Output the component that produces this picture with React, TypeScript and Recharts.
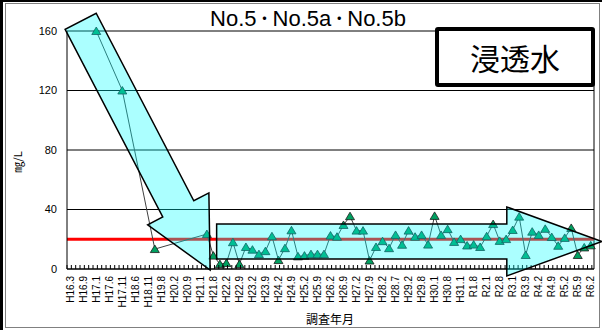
import React from 'react'
import { LineChart, Line, XAxis, YAxis, CartesianGrid, ReferenceLine } from 'recharts'

// survey dates shown on the axis (every 2nd survey is labelled)
const dateLabels = [
  'H16.3', 'H16.9', 'H17.1', 'H17.6', 'H17.11', 'H18.6', 'H18.11', 'H19.8', 'H20.2', 'H20.9',
  'H21.1', 'H21.8', 'H22.2', 'H22.9', 'H23.2', 'H23.9', 'H24.2', 'H24.9', 'H25.2', 'H25.9',
  'H26.2', 'H26.9', 'H27.2', 'H27.9', 'H28.2', 'H28.7', 'H29.2', 'H29.8', 'H30.1', 'H30.8',
  'H31.1', 'R1.8', 'R2.1', 'R2.8', 'R3.1', 'R3.9', 'R4.2', 'R4.9', 'R5.2', 'R5.9', 'R6.2',
]

// mg/L per survey (null = not measured)
const concentration: (number | null)[] = [
  null, null, null, null, 160, null, null, null, 120, null,
  null, null, null, 13.4, null, null, null, null, null, null,
  null, 23.5, 9, 3.3, 4, 18, 3.3, 14.8, 13, 10,
  12, 22, 6, 14, 26, 8.5, 9, 10, 10, 10,
  22.5, 21.7, 29.6, 35.5, 25.8, 25.8, 5.7, 14.8, 18.7, 14,
  22.9, 16.3, 25.8, 21.7, 22.9, 16.4, 35.7, 22.9, 26.8, 18.2,
  20.1, 15.8, 16.4, 14.8, 22, 30.2, 18.9, 20.1, 26.2, 35.2,
  9.4, 25.1, 22.9, 27, 21.5, 15.6, 20.9, 27.6, 9.4, 14.5,
  15.9,
]

const yTicks = [0, 40, 80, 120, 160]
const standardValue = 20
const titleParts = ['No.5', 'No.5a', 'No.5b']

// trend arrows: tail centre -> tip, in survey index / mg/L
const fallArrow = [{ x: 1.6, y: 166.5 }, { x: 21.5, y: -0.7 }]
const flatArrow = [{ x: 22.5, y: 18.5 }, { x: 81.7, y: 18.5 }]

const data = concentration.map((v, i) => ({ x: i, v }))
const labelTicks = dateLabels.map((_, i) => i * 2)
const markTicks: number[] = []
for (let k = 0; -0.5 + (k * 2) / 3 <= concentration.length - 0.5 + 1e-6; k++) markTicks.push(-0.5 + (k * 2) / 3)
const xTicks = [...labelTicks, ...markTicks].sort((a, b) => a - b)

const latin = '"Liberation Sans", Arial, sans-serif'
const cjk = '"Noto Sans CJK JP", "Liberation Sans", sans-serif'

function DateTick(props: any) {
  const { x, y, payload } = props
  const v = payload.value
  if (Number.isInteger(v) && v % 2 === 0) {
    const ty = y + 7
    return (
      <text x={x} y={ty} transform={`rotate(-90, ${x}, ${ty})`} textAnchor="end" dominantBaseline="central"
        fontSize={10} fontFamily={latin} fill="#000">
        {dateLabels[v / 2]}
      </text>
    )
  }
  return <line x1={x} x2={x} y1={y - 4} y2={y} stroke="#000" strokeWidth={1} />
}

function TriangleDot(props: any) {
  const { cx, cy, index, payload } = props
  if (payload == null || payload.v == null || cx == null || cy == null) return <g key={index} />
  return (
    <polygon key={index}
      points={`${cx},${cy - 4} ${cx - 4.5},${cy + 3.5} ${cx + 4.5},${cy + 3.5}`}
      fill="#00A060" stroke="#1a1a1a" strokeWidth={0.8} />
  )
}

const arrowShape = (shaft: number, head: number, headLen: number) => (props: any) => {
  const { x1, y1, x2, y2 } = props
  const len = Math.hypot(x2 - x1, y2 - y1)
  const ux = (x2 - x1) / len
  const uy = (y2 - y1) / len
  const nx = -uy
  const ny = ux
  const bx = x2 - ux * headLen
  const by = y2 - uy * headLen
  const pts = [
    [x1 + nx * shaft / 2, y1 + ny * shaft / 2],
    [bx + nx * shaft / 2, by + ny * shaft / 2],
    [bx + nx * head / 2, by + ny * head / 2],
    [x2, y2],
    [bx - nx * head / 2, by - ny * head / 2],
    [bx - nx * shaft / 2, by - ny * shaft / 2],
    [x1 - nx * shaft / 2, y1 - ny * shaft / 2],
  ]
  return (
    <polygon points={pts.map(p => p.join(',')).join(' ')}
      fill="#00FFFF" fillOpacity={0.33} stroke="#000" strokeWidth={1.5} strokeLinejoin="miter" />
  )
}

export default function App() {
  return (
    <div style={{ position: 'absolute', left: 0, top: 0, width: 602, height: 330, background: '#fff', overflow: 'hidden' }}>
      <div style={{ position: 'absolute', left: 0, top: 0, width: 602, height: 330, boxSizing: 'border-box', borderLeft: '3px solid #000', borderTop: '2px solid #000' }} />
      <div style={{ position: 'absolute', left: 5, top: 3, width: 595, height: 325, boxSizing: 'border-box', border: '1px solid #808080' }} />
      <div style={{ position: 'absolute', left: 0, top: 0 }}>
        <LineChart width={602} height={330} data={data} margin={{ top: 31, right: 8, bottom: 0, left: 0 }}>
          <CartesianGrid horizontal vertical={false} stroke="#000" />
          <XAxis dataKey="x" type="number" domain={[-0.5, concentration.length - 0.5]} ticks={xTicks} interval={0}
            height={61} tickSize={0} tickMargin={0} tickLine={false} axisLine={{ stroke: '#000' }} tick={<DateTick />} />
          <YAxis domain={[0, 160]} ticks={yTicks} width={67} tickLine={false} tickSize={0} tickMargin={10}
            axisLine={{ stroke: '#000' }} tick={{ fill: '#000', fontSize: 11, fontFamily: latin }} />
          <ReferenceLine x={concentration.length - 0.5} stroke="#000" />
          <ReferenceLine y={standardValue} stroke="#FF0000" strokeWidth={3} />
          <Line dataKey="v" stroke="#404040" strokeWidth={1} connectNulls dot={TriangleDot} activeDot={false}
            isAnimationActive={false} />
          <ReferenceLine segment={fallArrow} ifOverflow="visible" shape={arrowShape(35, 69, 69)} zIndex={2500} />
          <ReferenceLine segment={flatArrow} ifOverflow="visible" shape={arrowShape(35, 69, 95)} zIndex={2500} />
        </LineChart>
      </div>
      <div style={{ position: 'absolute', left: 108, width: 400, top: 8, textAlign: 'center', fontFamily: latin, fontSize: 22, lineHeight: 1, color: '#000', whiteSpace: 'nowrap' }}>
        {titleParts.map((t, i) => (
          <React.Fragment key={t}>
            {i > 0 && <span style={{ fontFamily: cjk, fontSize: 16, position: 'relative', top: -2 }}>・</span>}
            {t}
          </React.Fragment>
        ))}
      </div>
      <div style={{ position: 'absolute', left: 435, top: 27, width: 160, height: 60, boxSizing: 'border-box', border: '4px solid #000', borderRadius: 3, background: '#fff', display: 'flex', alignItems: 'center', justifyContent: 'center', fontFamily: cjk, fontSize: 30, color: '#000' }}>
        浸透水
      </div>
      <div style={{ position: 'absolute', left: 17, top: 162, transform: 'translate(-50%, -50%) rotate(-90deg)', fontFamily: cjk, fontSize: 11, whiteSpace: 'nowrap', color: '#000' }}>
        ㎎/L
      </div>
      <div style={{ position: 'absolute', left: 330, top: 318, transform: 'translate(-50%, -50%)', fontFamily: cjk, fontSize: 12, whiteSpace: 'nowrap', color: '#000' }}>
        調査年月
      </div>
    </div>
  )
}
